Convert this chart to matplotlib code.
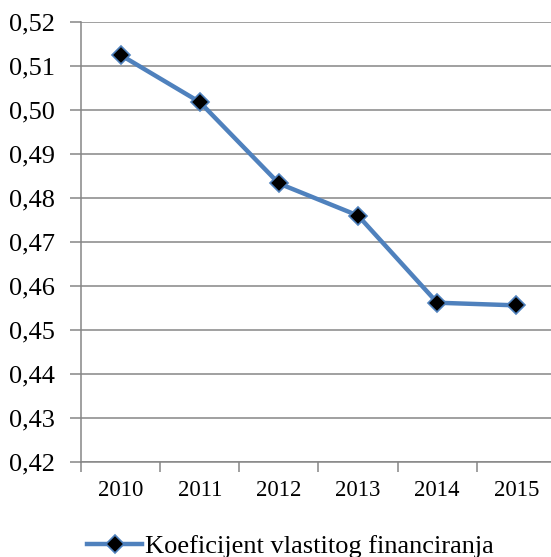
import matplotlib

matplotlib.use("Agg")
import matplotlib.pyplot as plt
from matplotlib.ticker import MultipleLocator, FuncFormatter

years = ["2010", "2011", "2012", "2013", "2014", "2015"]
koef = [0.5125, 0.5018, 0.4833, 0.4760, 0.4562, 0.4556]
series_name = "Koeficijent vlastitog financiranja"

W, H = 551, 557
plt.rcParams["font.family"] = ["Liberation Serif", "DejaVu Serif"]

fig = plt.figure(figsize=(W / 100, H / 100), dpi=100)
ax = fig.add_axes([81 / W, 1 - 462 / H, 475 / W, 440 / H])

blue = "#4F81BD"
grid = "#868686"
x = list(range(len(years)))
line, = ax.plot(x, koef, color=blue, lw=3.2, marker="D", ms=9,
                mfc="black", mec=blue, mew=1.2, solid_joinstyle="round",
                label=series_name, clip_on=False, zorder=3)

ax.set_ylim(0.42, 0.52)
ax.set_xlim(-0.5, len(years) - 0.5)
ax.yaxis.set_major_locator(MultipleLocator(0.01))
ax.yaxis.set_major_formatter(FuncFormatter(lambda v, p: f"{v:.2f}".replace(".", ",")))
ax.grid(axis="y", color=grid, lw=1.1)
ax.set_axisbelow(True)

# category labels centred, ticks between categories
ax.set_xticks(x)
ax.set_xticklabels(years)
ax.set_xticks([i - 0.5 for i in range(len(years) + 1)], minor=True)
ax.tick_params(axis="x", which="major", length=0, labelsize=16.5, pad=13)
ax.tick_params(axis="x", which="minor", length=7, color=grid, width=1.1)
ax.tick_params(axis="y", length=8, color=grid, width=1.1, labelsize=19, pad=11)

for s in ["top", "right"]:
    ax.spines[s].set_visible(False)
for s in ["left", "bottom"]:
    ax.spines[s].set_color(grid)
    ax.spines[s].set_linewidth(1.1)

fig.legend(handles=[line], loc="center left", bbox_to_anchor=(87 / W, 1 - 546 / H),
           frameon=False, fontsize=19, handlelength=2.1, handletextpad=0.1,
           borderaxespad=0, borderpad=0)

fig.savefig("out.png", dpi=100)
